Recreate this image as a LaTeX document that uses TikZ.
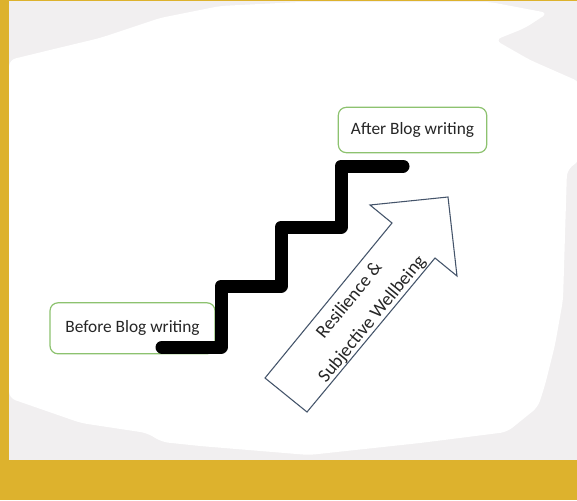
\documentclass[tikz,border=0pt]{standalone}
\usepackage{fontspec}
\setmainfont{Carlito}
\usepackage{tikz}
\definecolor{frame}{HTML}{DDB22D}
\definecolor{paper}{HTML}{F1EFF0}
\definecolor{boxgreen}{HTML}{8DC26F}
\definecolor{arrowblue}{HTML}{44546A}
\definecolor{ink}{HTML}{262626}

\begin{document}
\begin{tikzpicture}[x=0.75pt,y=-0.75pt,
    stage/.style={draw=boxgreen,line width=0.9pt,rounded corners=6pt,fill=white,text=ink,
      inner sep=0pt,font=\fontsize{13}{15}\selectfont},
    stairs/.style={line width=9.75pt,line cap=round,line join=round},
    growth/.style={draw=arrowblue,line width=0.8pt,fill=white}]
  \useasboundingbox (0,0) rectangle (577,500);
  % background
  \fill[frame] (0,0) rectangle (577,500);
  \fill[paper] (9,1) rectangle (577,460);
  \begin{scope}
    \clip (9,1) rectangle (577,460);
    \fill[white,rounded corners=5pt] (9,60) -- (50,50) -- (100,38) -- (160,18) -- (220,6) -- (300,2) -- (490,2) -- (548,13) -- (525,28) -- (495,40) -- (530,60) -- (580,82)
      -- (580,160) -- (567,170) -- (563,300) -- (555,345) -- (545,385) -- (538,407) -- (507,432)
      -- (420,443) -- (309,455) -- (200,446) -- (162,442) -- (147,433) -- (81,423) -- (9,398) -- cycle;
  \end{scope}
  % boxes
  \node[stage,minimum width=123.75pt,minimum height=38.25pt] (before) at (132.5,328.3) {Before Blog writing};
  \node[stage,minimum width=111.3pt,minimum height=34pt] (after) at (412.5,130) {After Blog writing};
  % staircase
  \draw[stairs] (162,347) -- (221,347) -- (221,286) -- (281,286) -- (281,227) -- (341,227) -- (341,166) -- (403,166);
  % arrow
  \draw[growth] (265,378) -- (392,223) -- (370,205) -- (448,197) -- (457,276) -- (435,258) -- (307,412) -- cycle;
  \node[rotate=50.7,align=center,text=ink,font=\fontsize{14}{22}\selectfont] (label) at (361,310) {Resilience \&\\Subjective Wellbeing};
\end{tikzpicture}
\end{document}
